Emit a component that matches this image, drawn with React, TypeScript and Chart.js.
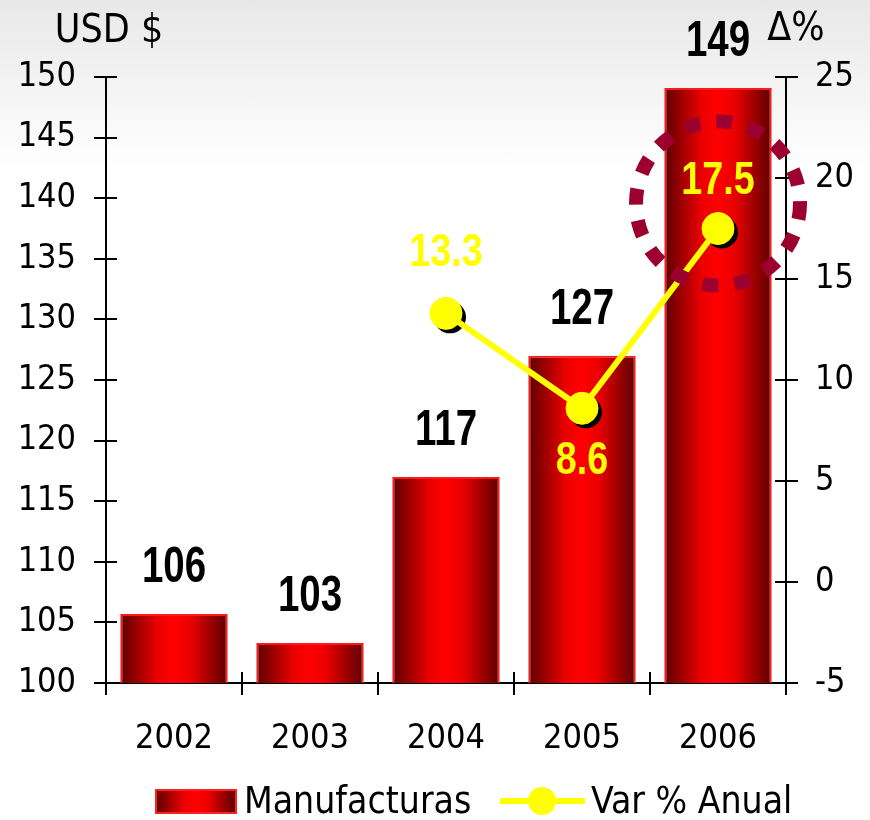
import React, { useEffect, useRef } from "react";
import { Chart, registerables } from "chart.js";

Chart.register(...registerables);

// ---- data ----
const years = ["2002", "2003", "2004", "2005", "2006"];
const manufacturas = [105.7, 103.3, 117.0, 127.0, 149.1];
const varAnual: (number | null)[] = [null, null, 13.3, 8.6, 17.5];
const barLabels = ["106", "103", "117", "127", "149"];
const varLabels: (string | null)[] = [null, null, "13.3", "8.6", "17.5"];
const leftTitle = "USD $";
const rightTitle = "Δ%";
const legendBar = "Manufacturas";
const legendLine = "Var % Anual";

// ---- styles ----
const TICK_FONT = '"DejaVu Sans Condensed", "DejaVu Sans", sans-serif';
const BOLD_FONT = '"Liberation Sans", Arial, sans-serif';
const varLabelOffsets = [0, 0, -47, 66, -35];
const BAR_PCT = 0.79;

function barGradient(ctx: CanvasRenderingContext2D, x0: number, x1: number) {
  const g = ctx.createLinearGradient(x0, 0, x1, 0);
  g.addColorStop(0, "#5e0000");
  g.addColorStop(0.15, "#9a0000");
  g.addColorStop(0.35, "#ec0000");
  g.addColorStop(0.5, "#ff0000");
  g.addColorStop(0.65, "#ec0000");
  g.addColorStop(0.85, "#9a0000");
  g.addColorStop(1, "#5e0000");
  return g;
}

function narrowText(ctx: CanvasRenderingContext2D, t: string, x: number, y: number, sx: number) {
  ctx.save();
  ctx.translate(x, y);
  ctx.scale(sx, 1);
  ctx.fillText(t, 0, 0);
  ctx.restore();
}

const decorPlugin = {
  id: "decor",
  beforeDatasetDraw(chart: any, args: any) {
    if (args.index !== 1) return;
    const ctx = chart.ctx;
    const meta = chart.getDatasetMeta(1);
    ctx.save();
    ctx.fillStyle = "#000";
    meta.data.forEach((p: any, i: number) => {
      if (varAnual[i] == null || p.skip) return;
      ctx.beginPath();
      ctx.arc(p.x + 4, p.y + 4, 16, 0, Math.PI * 2);
      ctx.fill();
    });
    ctx.restore();
  },
  afterDatasetsDraw(chart: any) {
    const ctx = chart.ctx;
    const barMeta = chart.getDatasetMeta(0);
    const lineMeta = chart.getDatasetMeta(1);
    // dotted highlight circle around last point
    const last = lineMeta.data[lineMeta.data.length - 1];
    ctx.save();
    ctx.strokeStyle = "#9c002e";
    ctx.lineWidth = 14;
    ctx.setLineDash([16, 16]);
    ctx.beginPath();
    ctx.arc(last.x, last.y - 25, 82, 0, Math.PI * 2);
    ctx.stroke();
    ctx.restore();

    // value labels
    ctx.save();
    ctx.textAlign = "center";
    ctx.textBaseline = "alphabetic";
    ctx.fillStyle = "#000";
    ctx.font = `bold 50px ${BOLD_FONT}`;
    barMeta.data.forEach((b: any, i: number) => {
      narrowText(ctx, barLabels[i], b.x, b.y - 32, 0.77);
    });
    ctx.fillStyle = "#ffff00";
    ctx.font = `bold 46px ${BOLD_FONT}`;
    lineMeta.data.forEach((p: any, i: number) => {
      const t = varLabels[i];
      if (!t) return;
      narrowText(ctx, t, p.x, p.y + varLabelOffsets[i], 0.82);
    });
    ctx.restore();
  },
  afterDraw(chart: any) {
    const ctx = chart.ctx;
    const { y, y1 } = chart.scales;
    const area = chart.chartArea;
    ctx.save();
    ctx.strokeStyle = "#000";
    ctx.lineWidth = 2;
    // inner tick stubs
    y.ticks.forEach((t: any) => {
      const py = Math.round(y.getPixelForValue(t.value));
      ctx.beginPath();
      ctx.moveTo(area.left, py);
      ctx.lineTo(area.left + 11, py);
      ctx.stroke();
    });
    y1.ticks.forEach((t: any) => {
      const py = Math.round(y1.getPixelForValue(t.value));
      ctx.beginPath();
      ctx.moveTo(area.right, py);
      ctx.lineTo(area.right - 11, py);
      ctx.stroke();
    });
    const n = years.length;
    for (let i = 0; i <= n; i++) {
      const px = Math.round(area.left + ((area.right - area.left) * i) / n);
      ctx.beginPath();
      ctx.moveTo(px, area.bottom);
      ctx.lineTo(px, area.bottom - 11);
      ctx.stroke();
    }
    // axis titles
    ctx.fillStyle = "#000";
    ctx.font = `39px ${TICK_FONT}`;
    ctx.textAlign = "center";
    ctx.textBaseline = "alphabetic";
    ctx.fillText(leftTitle, 109, 42);
    ctx.fillText(rightTitle, 796, 40);

    // legend
    ctx.fillStyle = barGradient(ctx, 156, 236);
    ctx.fillRect(156, 790, 80, 23);
    ctx.strokeStyle = "#ff2020";
    ctx.lineWidth = 2;
    ctx.strokeRect(156, 790, 80, 23);
    ctx.fillStyle = "#000";
    ctx.font = `37px ${TICK_FONT}`;
    ctx.textAlign = "left";
    ctx.textBaseline = "middle";
    ctx.fillText(legendBar, 244, 803);
    ctx.strokeStyle = "#ffff00";
    ctx.lineWidth = 6;
    ctx.beginPath();
    ctx.moveTo(500, 801);
    ctx.lineTo(585, 801);
    ctx.stroke();
    ctx.fillStyle = "#ffff00";
    ctx.beginPath();
    ctx.arc(542, 801, 14, 0, Math.PI * 2);
    ctx.fill();
    ctx.fillStyle = "#000";
    ctx.fillText(legendLine, 591, 803);
    ctx.restore();
  },
};

export default function App() {
  const ref = useRef<HTMLCanvasElement | null>(null);
  useEffect(() => {
    if (!ref.current) return;
    const chart = new Chart(ref.current, {
      type: "bar",
      data: {
        labels: years,
        datasets: [
          {
            type: "bar",
            label: legendBar,
            data: manufacturas,
            yAxisID: "y",
            order: 2,
            barPercentage: BAR_PCT,
            categoryPercentage: 1,
            borderColor: "#ff1a1a",
            borderWidth: 2,
            borderSkipped: false,
            backgroundColor: (c: any) => {
              const ch = c.chart;
              const xs = ch.scales && ch.scales.x;
              if (!xs || c.dataIndex == null || !ch.chartArea) return "#e00000";
              const cx = xs.getPixelForValue(c.dataIndex);
              const w = (xs.width / years.length) * BAR_PCT;
              return barGradient(ch.ctx, cx - w / 2, cx + w / 2);
            },
          } as any,
          {
            type: "line",
            label: legendLine,
            data: varAnual,
            yAxisID: "y1",
            order: 1,
            borderColor: "#ffff00",
            borderWidth: 6,
            pointRadius: 16,
            pointHoverRadius: 16,
            pointBackgroundColor: "#ffff00",
            pointBorderColor: "#ffff00",
            pointBorderWidth: 1,
            spanGaps: false,
            tension: 0,
          } as any,
        ],
      },
      options: {
        animation: false,
        responsive: false,
        maintainAspectRatio: false,
        layout: { padding: { top: 77, left: 0, right: 0, bottom: 0 } },
        plugins: {
          legend: { display: false },
          tooltip: { enabled: false },
          title: { display: false },
        },
        scales: {
          x: {
            offset: true,
            grid: {
              offset: true,
              drawOnChartArea: false,
              tickLength: 12,
              color: "#000",
              lineWidth: 2,
            },
            border: { color: "#000", width: 2 },
            ticks: {
              color: "#000",
              font: { family: TICK_FONT, size: 34 },
              padding: 24,
            },
            afterFit: (s: any) => {
              s.height = 137;
            },
          },
          y: {
            position: "left",
            min: 100,
            max: 150,
            ticks: {
              stepSize: 5,
              color: "#000",
              font: { family: TICK_FONT, size: 34 },
              padding: 18,
            },
            grid: {
              drawOnChartArea: false,
              tickLength: 12,
              color: "#000",
              lineWidth: 2,
            },
            border: { color: "#000", width: 2 },
            afterFit: (s: any) => {
              s.width = 106;
            },
          },
          y1: {
            position: "right",
            min: -5,
            max: 25,
            ticks: {
              stepSize: 5,
              color: "#000",
              font: { family: TICK_FONT, size: 34 },
              padding: 17,
            },
            grid: {
              drawOnChartArea: false,
              tickLength: 12,
              color: "#000",
              lineWidth: 2,
            },
            border: { color: "#000", width: 2 },
            afterFit: (s: any) => {
              s.width = 84;
            },
          },
        },
      },
      plugins: [decorPlugin],
    });
    return () => chart.destroy();
  }, []);

  return (
    <div
      style={{
        position: "fixed",
        left: 0,
        top: 0,
        width: 870,
        height: 820,
        background: "linear-gradient(#e8e8e8 0px, #ffffff 170px)",
      }}
    >
      <canvas ref={ref} width={870} height={820} style={{ display: "block" }} />
    </div>
  );
}
